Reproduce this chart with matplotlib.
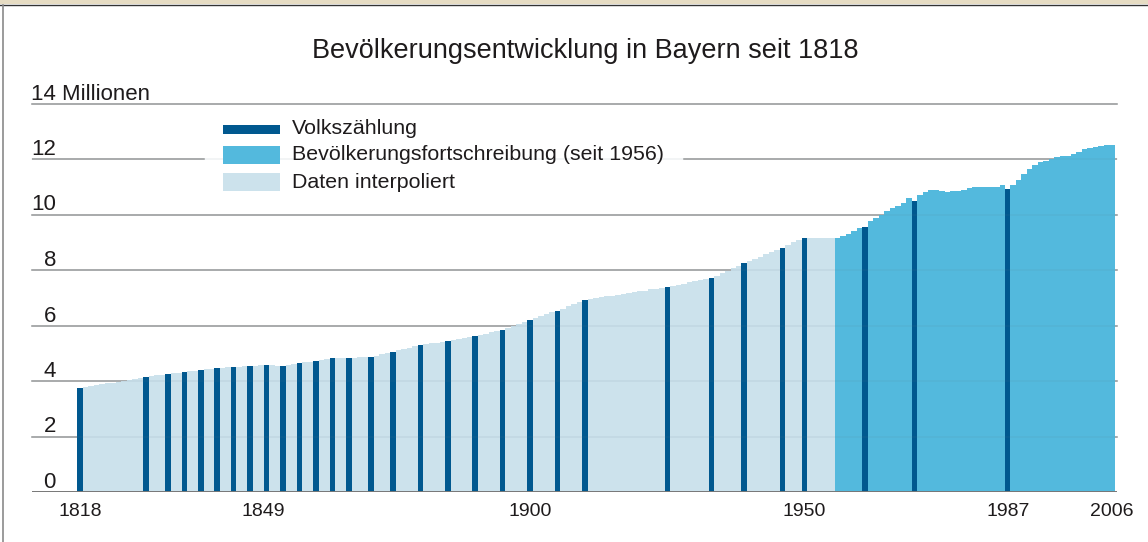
import numpy as np
import matplotlib.pyplot as plt
from matplotlib.patches import Rectangle
from matplotlib.lines import Line2D
from matplotlib import transforms

plt.rcParams['font.family'] = ['Liberation Sans', 'DejaVu Sans']

# population in millions, one value per year 1818..2006
years = list(range(1818, 2007))
population = [
    3.75,                                                        # 1818
    3.78, 3.81, 3.85, 3.88, 3.91, 3.94, 3.98, 4.01, 4.04, 4.07, 4.11,  # 1819-1829
    4.14, 4.17, 4.20, 4.23, 4.26, 4.28, 4.30, 4.32, 4.35, 4.37,  # 1830-1839
    4.40, 4.42, 4.45, 4.47, 4.48, 4.49, 4.50, 4.51, 4.53, 4.54,  # 1840-1849
    4.55, 4.57, 4.58, 4.57, 4.55, 4.54, 4.58, 4.61, 4.65, 4.67,  # 1850-1859
    4.70, 4.72, 4.76, 4.79, 4.83, 4.83, 4.83, 4.83, 4.84, 4.85,  # 1860-1869
    4.85, 4.86, 4.91, 4.96, 5.00, 5.05, 5.10, 5.15, 5.20, 5.25,  # 1870-1879
    5.30, 5.33, 5.36, 5.38, 5.41, 5.44, 5.48, 5.51, 5.55, 5.58,  # 1880-1889
    5.62, 5.67, 5.71, 5.76, 5.80, 5.85, 5.92, 5.99, 6.07, 6.14,  # 1890-1899
    6.21, 6.27, 6.34, 6.40, 6.47, 6.53, 6.61, 6.69, 6.76, 6.84,  # 1900-1909
    6.92, 6.95, 6.98, 7.01, 7.05, 7.08, 7.11, 7.14, 7.17, 7.20,  # 1910-1919
    7.23, 7.26, 7.30, 7.33, 7.36, 7.39, 7.43, 7.47, 7.51, 7.55,  # 1920-1929
    7.59, 7.63, 7.67, 7.71, 7.80, 7.89, 7.98, 8.07, 8.16, 8.25,  # 1930-1939
    8.33, 8.40, 8.48, 8.56, 8.64, 8.71, 8.79, 8.90, 9.00, 9.08,  # 1940-1949
    9.15, 9.15, 9.15, 9.15, 9.15, 9.15, 9.15, 9.21, 9.28, 9.40,  # 1950-1959
    9.51, 9.55, 9.77, 9.87, 10.00, 10.13, 10.23, 10.31, 10.41, 10.59,  # 1960-1969
    10.49, 10.69, 10.81, 10.88, 10.88, 10.85, 10.81, 10.85, 10.85, 10.88,  # 1970-1979
    10.95, 10.99, 10.99, 10.99, 10.99, 10.99, 11.05, 10.92, 11.06, 11.24,  # 1980-1989
    11.46, 11.64, 11.78, 11.89, 11.93, 12.00, 12.07, 12.11, 12.11, 12.18,  # 1990-1999
    12.25, 12.36, 12.40, 12.43, 12.47, 12.50, 12.50,             # 2000-2006
]
census_years = [1818, 1830, 1834, 1837, 1840, 1843, 1846, 1849, 1852, 1855,
                1858, 1861, 1864, 1867, 1871, 1875, 1880, 1885, 1890, 1895,
                1900, 1905, 1910, 1925, 1933, 1939, 1946, 1950, 1961, 1970, 1987]
update_start = 1956
xtick_years = [1818, 1849, 1900, 1950, 1987, 2006]
ytick_values = [0, 2, 4, 6, 8, 10, 12, 14]
ytick_labels = ['0', '2', '4', '6', '8', '10', '12', '14 Millionen']
legend_labels = ['Volkszählung', 'Bevölkerungsfortschreibung (seit 1956)', 'Daten interpoliert']
title = 'Bevölkerungsentwicklung in Bayern seit 1818'

dark = '#00588f'
medium = '#53b9dd'
light = '#cce2ec'
grid_col = '#9a9a9a'
text_col = '#1e1b1c'

W, H = 1148, 542
fig = plt.figure(figsize=(W / 100, H / 100), dpi=100)


def fx(px):
    return px / W


def fy(py):
    return 1 - py / H


# axes spans pixels x 32..1117, y 103.5..492
ax = fig.add_axes([fx(32), fy(492), fx(1117) - fx(32), fy(103.5) - fy(492)])
ax.set_xlim(1809.26, 2006.9)
ax.set_ylim(0, 14)
ax.axis('off')

colors = []
for y in years:
    if y in census_years:
        colors.append(dark)
    elif y >= update_start:
        colors.append(medium)
    else:
        colors.append(light)
ax.bar(years, population, width=1.0, color=colors, linewidth=0, zorder=2)

# grid lines (12 is broken by the legend)
for v in ytick_values[1:]:
    if v == 12:
        ax.axhline(v, xmin=0, xmax=(204 - 32) / 1085, color=grid_col, lw=1.1, zorder=1)
        ax.axhline(v, xmin=(684 - 32) / 1085, xmax=1, color=grid_col, lw=1.1, zorder=1)
    else:
        ax.axhline(v, color=grid_col, lw=1.1, zorder=1, clip_on=False)
    ax.axhline(v, color='#5a7a8a', lw=1.1, alpha=0.10, zorder=3, clip_on=False)
ax.axhline(0, color='#777777', lw=1.4, zorder=4)

# y labels sit just above their grid line
ylab_tr = transforms.offset_copy(
    transforms.blended_transform_factory(fig.transFigure, ax.transData),
    fig=fig, x=0, y=4, units='dots')
for v, lab in zip(ytick_values, ytick_labels):
    if v == 14:
        fig.text(fx(31), v, lab, transform=ylab_tr, ha='left', va='baseline',
                 fontsize=16, color=text_col)
    else:
        fig.text(fx(56), v, lab, transform=ylab_tr, ha='right', va='baseline',
                 fontsize=16, color=text_col)

# x labels
xlab_tr = transforms.offset_copy(ax.transData, fig=fig, x=0, y=-11, units='dots')
for yr in xtick_years:
    dx = 13 if yr == 1849 else 0
    tr = transforms.offset_copy(xlab_tr, fig=fig, x=dx, y=0, units='dots')
    ax.text(yr, 0, str(yr), transform=tr, ha='center', va='top',
            fontsize=14, color=text_col)

# title
fig.text(fx(585), fy(58), title, ha='center', va='baseline', fontsize=19.5, color=text_col)

# legend
leg_colors = [dark, medium, light]
leg_rows = [129, 155, 182]
leg_heights = [9, 18, 18]
for c, yc, h, lab in zip(leg_colors, leg_rows, leg_heights, legend_labels):
    fig.patches.append(Rectangle((fx(223), fy(yc + h / 2)), fx(280) - fx(223), h / H,
                                 transform=fig.transFigure, color=c, lw=0))
    fig.text(fx(292), fy(yc), lab, ha='left', va='center', fontsize=15.4, color=text_col)

# frame bits: paper strip at the top and left border
fig.patches.append(Rectangle((0, fy(4)), 1, 4 / H, transform=fig.transFigure,
                             color='#e6dcc3', lw=0))
fig.lines.append(Line2D([0, 1], [fy(4.5), fy(4.5)], transform=fig.transFigure,
                        color='#333333', lw=1.0))
fig.lines.append(Line2D([fx(2.5), fx(2.5)], [0, fy(5)], transform=fig.transFigure,
                        color='#8a8a8a', lw=1.2))

fig.savefig('out.png', dpi=100)
